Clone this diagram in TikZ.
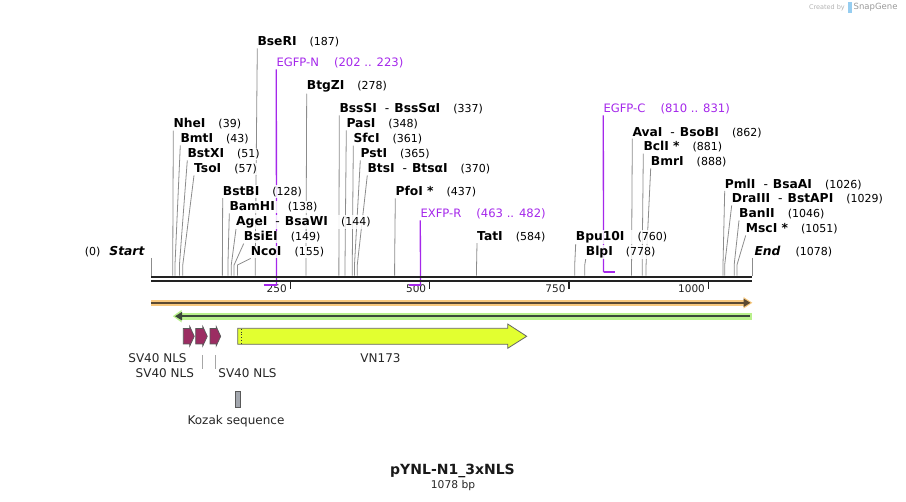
\documentclass[tikz,border=0pt]{standalone}
\usepackage{fontspec}
\setmainfont{DejaVu Sans}
\usepackage{tikz}
\usetikzlibrary{arrows.meta, positioning, backgrounds}
\definecolor{sitegray}{RGB}{140,140,140}
\definecolor{bbdark}{RGB}{34,34,34}
\definecolor{primerpurple}{RGB}{165,40,235}
\definecolor{nlsred}{RGB}{155,45,98}
\definecolor{vnyellow}{RGB}{226,255,48}
\definecolor{kozakgray}{RGB}{163,167,174}
\definecolor{bandorange}{RGB}{248,200,125}
\definecolor{banddark}{RGB}{92,74,50}
\definecolor{bandgreen}{RGB}{185,240,140}
\definecolor{banddarkg}{RGB}{58,72,58}
\definecolor{markblue}{RGB}{150,205,240}
\newcommand{\enzlab}[2]{\textbf{#1}\hspace{13pt}{\fontsize{11}{13}\selectfont(#2)}}
\newcommand{\pairsep}{\hspace{8pt}\textmd{-}\hspace{5pt}}
\tikzset{
  enz/.style={anchor=west, inner xsep=0pt, inner ysep=1pt, fill=white,
              fill opacity=0.85, text opacity=1,
              font=\fontsize{12.3}{14}\selectfont, text=black},
  siteline/.style={draw=sitegray, line width=0.8pt},
  primerlab/.style={anchor=west, inner xsep=0pt, inner ysep=1pt, fill=white,
                    fill opacity=0.85, text opacity=1,
                    font=\fontsize{11.6}{14}\selectfont, text=primerpurple},
  primerline/.style={draw=primerpurple, line width=1.3pt},
  primerbar/.style={draw=primerpurple, line width=2pt},
  bbline/.style={draw=bbdark, line width=2.2pt},
  tickmark/.style={draw=bbdark, line width=1.4pt},
  ticklab/.style={anchor=east, inner sep=0pt, font=\fontsize{10.5}{12}\selectfont, text=bbdark},
  featlab/.style={inner sep=0pt, font=\fontsize{12}{14}\selectfont, text=black!85},
  featline/.style={draw=gray!70, line width=0.8pt},
  nlsarrow/.style={draw=black!65, fill=nlsred, line width=0.7pt, line join=miter},
  vnarrow/.style={draw=black!60, fill=vnyellow, line width=0.8pt, line join=miter},
}

\begin{document}
\begin{tikzpicture}[x=1pt, y=-1pt]
  \useasboundingbox (0,0) rectangle (906,502);
  % backbone
  \draw[bbline] (151,276.7) -- (752,276.7);
  \draw[bbline] (151,281.2) -- (752,281.2);
  \foreach \t in {250,500,750,1000} {
    \pgfmathsetmacro\tx{151+\t/1078*601}
    \draw[tickmark] (\tx,282.3) -- (\tx,289.5);
    \node[ticklab] (tick\t) at (\tx-3.4,289) {\t};
  }
  % enzyme sites
  \foreach \n/\nm/\bp/\xl/\yl in {
      nhe/NheI/39/173.3/124, bmt/BmtI/43/180.3/139, bstx/BstXI/51/187.3/154,
      tso/TsoI/57/194/169, bser/BseRI/187/257.3/42, bstb/BstBI/128/222.7/191.7,
      bamh/BamHI/138/229.3/207, age/AgeI\pairsep BsaWI/144/236/222,
      bsie/BsiEI/149/243.7/237, nco/NcoI/155/250.7/252, btgz/BtgZI/278/306.7/86.7,
      bsss/BssSI\pairsep BssSαI/337/339.3/109, pas/PasI/348/346.3/124,
      sfc/SfcI/361/353.3/139, pst/PstI/365/360.3/154,
      bts/BtsI\pairsep BtsαI/370/367.3/169, pfo/PfoI */437/395.3/191.7,
      tat/TatI/584/477/236.7, bpu/Bpu10I/760/575.7/237, blp/BlpI/778/585.7/252,
      ava/AvaI\pairsep BsoBI/862/632.3/132.3, bcl/BclI */881/643.3/147,
      bmr/BmrI/888/650.7/162, pml/PmlI\pairsep BsaAI/1026/724.7/184.3,
      dra/DraIII\pairsep BstAPI/1029/731.7/199, ban/BanII/1046/739/214,
      msc/MscI */1051/745.7/229} {
    \node[enz] (lab\n) at (\xl,\yl) {\enzlab{\nm}{\bp}};
    \pgfmathsetmacro\sx{151+\bp/1078*601}
    \coordinate (cut\n) at (\sx,275.6);
    \begin{scope}[on background layer]
      \draw[siteline] (lab\n.south west) -- (\sx,265) -- (cut\n);
    \end{scope}
  }
  \node[enz, anchor=east] (startlab) at (145,251.7)
        {{\fontsize{11}{13}\selectfont(0)}\hspace{9pt}\textbf{\textit{Start}}};
  \coordinate (starttop) at (151,258);
  \coordinate (cutstart) at (151,275.6);
  \draw[siteline] (starttop) -- (cutstart);
  \node[enz] (endlab) at (754.3,251.7)
        {\textbf{\textit{End}}\hspace{15pt}{\fontsize{11}{13}\selectfont(1078)}};
  \coordinate (endtop) at (752,258);
  \coordinate (cutend) at (752,275.6);
  \draw[siteline] (endtop) -- (cutend);
  % primers
  \node[primerlab] (egfpn) at (276.3,63) {EGFP-N\hspace{15pt}(202 .. 223)};
  \node[primerlab] (exfpr) at (420.3,214) {EXFP-R\hspace{15pt}(463 .. 482)};
  \node[primerlab] (egfpc) at (603.3,109) {EGFP-C\hspace{15pt}(810 .. 831)};
  \coordinate (egfpnend) at (276.5,285.5);
  \coordinate (exfprend) at (420.5,285.3);
  \coordinate (egfpcend) at (603.5,272.5);
  \begin{scope}[on background layer]
    \draw[primerline] (egfpn.south west) -- (egfpnend);
    \draw[primerline] (exfpr.south west) -- (exfprend);
    \draw[primerline] (egfpc.south west) -- (egfpcend);
  \end{scope}
  \draw[primerbar] (263.6,285.5) -- (egfpnend);
  \draw[primerbar] (409,285.3) -- (exfprend);
  \draw[primerbar] (egfpcend) -- (615,272.5);
  % feature bands
  \draw[line width=6.2pt, draw=bandorange, -{Triangle[length=9pt, width=11pt, fill=bandorange]}]
        (151,302.8) -- (752.5,302.8);
  \draw[line width=2.3pt, draw=banddark, -{Triangle[length=7pt, width=8pt]}]
        (151,302.8) -- (750.5,302.8);
  \draw[line width=7pt, draw=bandgreen, -{Triangle[length=9pt, width=12pt, fill=bandgreen]}]
        (751.7,316.2) -- (172.7,316.2);
  \draw[line width=2.6pt, draw=banddarkg, -{Triangle[length=7pt, width=8pt]}]
        (750,316.2) -- (175,316.2);
  % SV40 NLS arrows
  \foreach \i/\a/\b in {1/183.3/194.3, 2/195.7/207.3, 3/210/220.7} {
    \draw[nlsarrow] (\a,328.5) -- (\b-4.5,328.5) -- (\b-4.5,326.5) -- (\b,336.3)
        -- (\b-4.5,346) -- (\b-4.5,344) -- (\a,344) -- cycle;
  }
  \node[featlab] (nls1lab) at (157.5,357.7) {SV40 NLS};
  \node[featlab] (nls2lab) at (164.8,373.3) {SV40 NLS};
  \node[featlab] (nls3lab) at (247.5,373.3) {SV40 NLS};
  \coordinate (nls2) at (202.3,355);
  \coordinate (nls3) at (215,355);
  \draw[featline] (nls2) -- (nls2 |- nls2lab.north);
  \draw[featline] (nls3) -- (nls3 |- nls3lab.north);
  % VN173
  \draw[vnarrow] (237.7,328.3) -- (507.7,328.3) -- (507.7,324) -- (526.7,336.3)
      -- (507.7,348.3) -- (507.7,344.3) -- (237.7,344.3) -- cycle;
  \draw[black!80, line width=0.8pt, dotted] (241,328.8) -- (241,343.8);
  \node[featlab] (vnlab) at (380.5,357.7) {VN173};
  % Kozak
  \draw[draw=black!65, fill=kozakgray, line width=0.7pt] (235,391.7) rectangle (240.7,407.7);
  \node[featlab] (kozaklab) at (236,420.7) {Kozak sequence};
  % title
  \node[font=\fontsize{14}{16}\selectfont\bfseries, inner sep=0pt, text=black!90] (title)
        at (452.5,470.7) {pYNL-N1\_3xNLS};
  \node[font=\fontsize{10.7}{12}\selectfont, inner sep=0pt, text=black!85] (size)
        at (453,486) {1078 bp};
  % watermark
  \node[font=\fontsize{6.5}{8}\selectfont, inner sep=0pt, text=black!30, anchor=east] (madeby)
        at (845,7.5) {Created by};
  \fill[markblue] (848,2) rectangle (851.5,13);
  \node[font=\fontsize{8.5}{10}\selectfont, inner sep=0pt, text=black!40, anchor=west] (sgname)
        at (853.5,7.5) {SnapGene};
\end{tikzpicture}
\end{document}
